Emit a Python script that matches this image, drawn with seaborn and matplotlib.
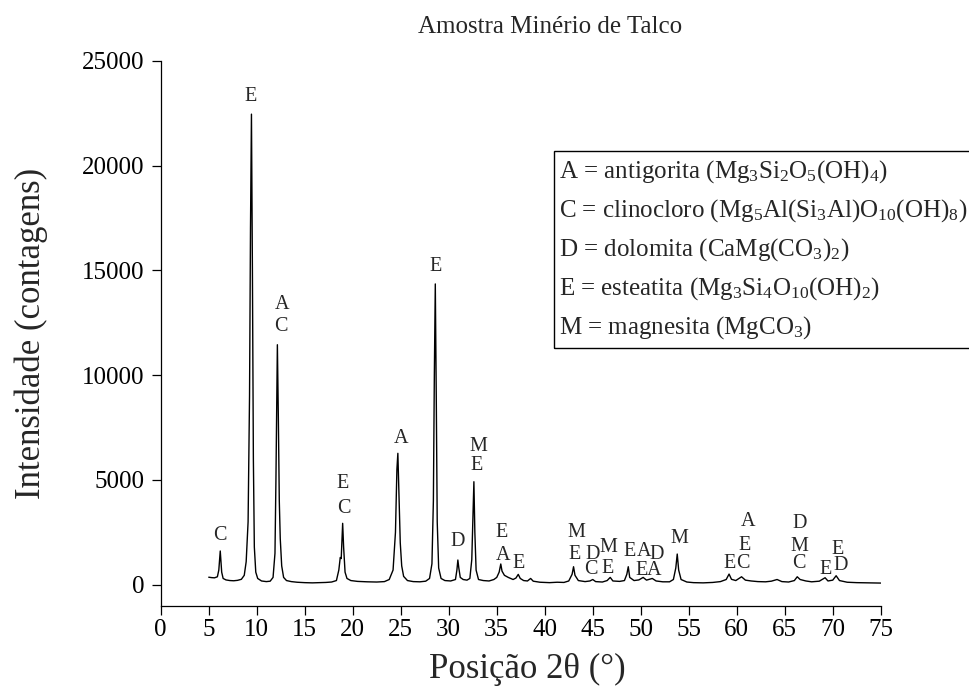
import pandas as pd
import seaborn as sns
import matplotlib.pyplot as plt
from matplotlib.patches import Rectangle

# XRD pattern (2theta in degrees, counts)
two_theta = [5.0, 5.3, 5.6, 5.9, 6.05, 6.2, 6.35, 6.5, 6.8, 7.2, 7.6, 8.0, 8.4, 8.7, 8.9,
             9.1, 9.25, 9.35, 9.45, 9.55, 9.65, 9.75, 9.9, 10.1, 10.5, 11.0, 11.4, 11.7,
             11.9, 12.0, 12.1, 12.15, 12.25, 12.35, 12.45, 12.6, 12.8, 13.1, 13.6, 14.2,
             15.0, 15.8, 16.5, 17.2, 17.8, 18.3, 18.55, 18.7, 18.8, 18.95, 19.05, 19.2,
             19.4, 19.8, 20.5, 21.5, 22.5, 23.3, 23.8, 24.2, 24.45, 24.6, 24.7, 24.8,
             24.95, 25.1, 25.3, 25.7, 26.3, 27.0, 27.6, 28.0, 28.25, 28.4, 28.5, 28.6,
             28.7, 28.8, 28.95, 29.2, 29.6, 30.2, 30.7, 30.85, 30.95, 31.05, 31.2, 31.5,
             31.9, 32.2, 32.4, 32.55, 32.62, 32.72, 32.85, 33.1, 33.6, 34.2, 34.7, 35.0,
             35.25, 35.42, 35.55, 35.8, 36.2, 36.7, 37.0, 37.24, 37.45, 37.8, 38.2, 38.53,
             38.8, 39.5, 40.5, 41.3, 42.0, 42.5, 42.85, 43.0, 43.15, 43.5, 44.2, 44.7,
             45.0, 45.3, 46.0, 46.5, 46.82, 47.1, 47.8, 48.3, 48.55, 48.7, 48.85, 49.3,
             49.8, 50.25, 50.6, 51.2, 51.6, 52.3, 53.0, 53.4, 53.65, 53.8, 53.95, 54.2,
             54.8, 55.5, 56.5, 57.5, 58.3, 58.9, 59.2, 59.45, 59.9, 60.5, 60.9, 61.5,
             62.2, 63.0, 63.6, 64.2, 64.7, 65.4, 66.0, 66.3, 66.6, 67.2, 67.8, 68.6,
             69.2, 69.5, 70.0, 70.35, 70.7, 71.5, 72.5, 73.5, 74.3, 75.0]
counts = [360, 340, 330, 380, 700, 1610, 600, 300, 230, 200, 190, 210, 260, 450, 1100,
          3000, 9000, 17000, 22450, 15000, 6000, 1800, 600, 300, 180, 150, 170, 350,
          1500, 5000, 9500, 11450, 8000, 4000, 2200, 900, 350, 200, 150, 120,
          100, 90, 100, 110, 130, 200, 700, 1300, 1250, 2930, 1800, 600,
          300, 200, 160, 140, 130, 150, 250, 700, 2500, 5500, 6270, 4500,
          2000, 900, 400, 200, 150, 140, 170, 300, 1000, 4000, 10000, 14350,
          9000, 3000, 800, 300, 200, 180, 250, 700, 1180, 800, 350, 250,
          220, 300, 1200, 3800, 4915, 2500, 700, 250, 200, 180, 250, 350,
          600, 990, 650, 450, 350, 250, 320, 495, 300, 200, 180, 300,
          170, 120, 100, 120, 110, 180, 500, 860, 450, 200, 150, 180,
          250, 150, 130, 200, 350, 180, 160, 200, 500, 860, 350, 200,
          230, 350, 220, 300, 180, 140, 140, 250, 800, 1465, 700, 250,
          130, 100, 90, 110, 150, 250, 510, 260, 200, 380, 220, 180,
          150, 140, 170, 250, 150, 130, 200, 380, 250, 180, 140, 170,
          335, 180, 220, 430, 200, 120, 100, 90, 80, 80]

# phase letters above the peaks: (letter, 2theta, counts)
peak_labels = [("C", 6.2, 2370), ("E", 9.4, 23300), ("A", 12.6, 13380), ("C", 12.55, 12300),
               ("E", 18.9, 4840), ("C", 19.05, 3645), ("A", 25.05, 6985), ("E", 28.65, 15200),
               ("D", 30.95, 2050), ("M", 33.1, 6585), ("E", 32.9, 5665),
               ("E", 35.55, 2500), ("A", 35.7, 1415), ("E", 37.3, 1020),
               ("M", 43.25, 2480), ("E", 43.1, 1465), ("D", 44.95, 1465), ("C", 44.8, 730),
               ("M", 46.65, 1770), ("E", 46.5, 780), ("E", 48.8, 1575), ("A", 50.35, 1575),
               ("D", 51.7, 1465), ("E", 50.05, 700), ("A", 51.4, 700), ("M", 54.0, 2210),
               ("E", 59.25, 990), ("C", 60.65, 990), ("A", 61.2, 3010), ("E", 60.85, 1895),
               ("D", 66.5, 2930), ("M", 66.5, 1845), ("C", 66.5, 990),
               ("E", 69.2, 730), ("D", 70.8, 910), ("E", 70.5, 1690)]

legend_rows = [r"A = antigorita (Mg$_3$Si$_2$O$_5$(OH)$_4$)",
               r"C = clinocloro (Mg$_5$Al(Si$_3$Al)O$_{10}$(OH)$_8$)",
               r"D = dolomita (CaMg(CO$_3$)$_2$)",
               r"E = esteatita (Mg$_3$Si$_4$O$_{10}$(OH)$_2$)",
               r"M = magnesita (MgCO$_3$)"]

sns.set_style("ticks")
plt.rcParams["font.family"] = ["Liberation Serif", "DejaVu Serif"]
plt.rcParams["mathtext.fontset"] = "custom"
plt.rcParams["mathtext.rm"] = "Liberation Serif"
plt.rcParams["mathtext.it"] = "Liberation Serif:italic"
plt.rcParams["mathtext.default"] = "regular"

df = pd.DataFrame({"pos": two_theta, "counts": counts})

fig = plt.figure(figsize=(9.7, 7), dpi=100)
ax = fig.add_axes([0.1657, 0.1347, 0.7423, 0.7786])
sns.lineplot(data=df, x="pos", y="counts", ax=ax, color="black", linewidth=1.0)

ax.set_xlim(0, 75)
ax.set_ylim(-1000, 25000)
ax.set_xticks(range(0, 80, 5))
ax.set_yticks(range(0, 25001, 5000))
ax.tick_params(direction="out", length=6.5, width=0.9, labelsize=18, colors="black")
ax.tick_params(axis="x", pad=3)
ax.tick_params(axis="y", pad=5)
sns.despine(ax=ax)
for side in ["left", "bottom"]:
    ax.spines[side].set_linewidth(0.9)
    ax.spines[side].set_color("black")

ax.set_xlabel("Posição 2θ (°)", fontsize=25)
ax.set_ylabel("Intensidade (contagens)", fontsize=25)
ax.xaxis.set_label_coords(0.509, -0.087)
ax.yaxis.set_label_coords(-0.157, 0.5)

for letter, px, py in peak_labels:
    ax.text(px, py, letter, fontsize=14.5, ha="center", va="center")

fig.text(550 / 970, 1 - 27 / 700, "Amostra Minério de Talco", fontsize=18,
         ha="center", va="center")

# composition box, running off the right edge like the original
fig.patches.append(Rectangle((554 / 970, 1 - 348 / 700), 0.5, 197 / 700,
                             transform=fig.transFigure, fill=False,
                             edgecolor="black", linewidth=1.0))
for i, row in enumerate(legend_rows):
    fig.text(559 / 970, 1 - (178 + 38.8 * i) / 700, row, fontsize=18,
             ha="left", va="baseline")

fig.savefig("out.png", dpi=100)
